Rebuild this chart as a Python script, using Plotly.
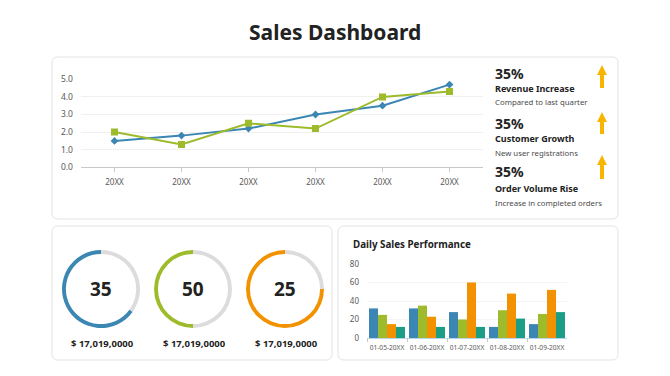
import plotly.graph_objects as go

W, H = 670, 376
FONT = "Noto Sans"

# ---------------- data ----------------
line_categories = ["20XX", "20XX", "20XX", "20XX", "20XX", "20XX"]
line_blue = [1.5, 1.8, 2.2, 3.0, 3.5, 4.7]
line_green = [2.0, 1.3, 2.5, 2.2, 4.0, 4.3]
line_yticks = [0, 1, 2, 3, 4, 5]

kpi_values = ["35%", "35%", "35%"]
kpi_titles = ["Revenue Increase", "Customer Growth", "Order Volume Rise"]
kpi_subtitles = ["Compared to last quarter", "New user registrations", "Increase in completed orders"]

gauge_values = [35, 50, 25]
gauge_amounts = ["$ 17,019,0000", "$ 17,019,0000", "$ 17,019,0000"]

bar_dates = ["01-05-20XX", "01-06-20XX", "01-07-20XX", "01-08-20XX", "01-09-20XX"]
bar_s1 = [32, 32, 28, 12, 15]
bar_s2 = [25, 35, 20, 30, 26]
bar_s3 = [15, 23, 60, 48, 52]
bar_s4 = [12, 12, 12, 21, 28]
bar_yticks = [0, 20, 40, 60, 80]

BLUE = "#3b86b3"
GREEN = "#9dbb2b"
ORANGE = "#f39200"
TEAL = "#1b9e85"
GRAY = "#dcdcdc"
ARROW = "#f7b500"
TXT = "#222222"
AX = "#595959"


def px(x):
    return x / W


def py(y):
    return 1 - y / H


def rrect(x0, y0, x1, y1, r=6):
    X0, X1 = px(x0), px(x1)
    Y0, Y1 = py(y0), py(y1)
    rx, ry = r / W, r / H
    return (f"M {X0+rx},{Y0} L {X1-rx},{Y0} Q {X1},{Y0} {X1},{Y0-ry} "
            f"L {X1},{Y1+ry} Q {X1},{Y1} {X1-rx},{Y1} L {X0+rx},{Y1} "
            f"Q {X0},{Y1} {X0},{Y1+ry} L {X0},{Y0-ry} Q {X0},{Y0} {X0+rx},{Y0} Z")


def arrow(cx, top, bottom, head=10, hw=5, sw=2):
    pts = [(cx, top), (cx + hw, top + head), (cx + sw, top + head), (cx + sw, bottom),
           (cx - sw, bottom), (cx - sw, top + head), (cx - hw, top + head)]
    d = "M " + " L ".join(f"{px(a)},{py(b)}" for a, b in pts) + " Z"
    return d


fig = go.Figure()

# line chart
fig.add_trace(go.Scatter(x=list(range(6)), y=line_blue, mode="lines+markers",
                         line=dict(color=BLUE, width=2),
                         marker=dict(symbol="diamond", size=6, color=BLUE),
                         xaxis="x", yaxis="y", showlegend=False))
fig.add_trace(go.Scatter(x=list(range(6)), y=line_green, mode="lines+markers",
                         line=dict(color=GREEN, width=2),
                         marker=dict(symbol="square", size=7, color=GREEN),
                         xaxis="x", yaxis="y", showlegend=False))

# bar chart
for vals, col in [(bar_s1, BLUE), (bar_s2, GREEN), (bar_s3, ORANGE), (bar_s4, TEAL)]:
    fig.add_trace(go.Bar(x=bar_dates, y=vals, marker=dict(color=col, line=dict(width=0)),
                         xaxis="x2", yaxis="y2", showlegend=False))

# gauges
centers = [101, 193, 285]
R = 39
gauge_colors = [BLUE, GREEN, ORANGE]
for cx, v, col in zip(centers, gauge_values, gauge_colors):
    fig.add_trace(go.Pie(values=[v, 100 - v], marker=dict(colors=[GRAY, col]),
                         hole=0.9, sort=False, direction="clockwise", rotation=0,
                         textinfo="none", hoverinfo="skip", showlegend=False,
                         domain=dict(x=[px(cx - R), px(cx + R)], y=[py(289 + R), py(289 - R)])))

shapes = []
for (x0, y0, x1, y1) in [(52, 57, 618, 219), (52, 226, 332, 360), (338, 226, 618, 360)]:
    shapes.append(dict(type="path", path=rrect(x0, y0, x1, y1), xref="paper", yref="paper",
                       line=dict(color="#e3e3e3", width=1), fillcolor="white", layer="below"))
for top, bottom in [(65, 88), (112, 134), (155, 179)]:
    shapes.append(dict(type="path", path=arrow(602, top, bottom), xref="paper", yref="paper",
                       line=dict(width=0), fillcolor=ARROW))

ann = []
ann.append(dict(text="<b>Sales Dashboard</b>", x=px(335), y=py(32), xref="paper", yref="paper",
                showarrow=False, font=dict(size=21, color=TXT, family=FONT), xanchor="center", yanchor="middle"))
kpi_y = [(73, 88, 102), (123, 138, 153), (172, 188, 203)]
for (a, b, c), v, t, s in zip(kpi_y, kpi_values, kpi_titles, kpi_subtitles):
    ann.append(dict(text=f"<b>{v}</b>", x=px(493), y=py(a), xref="paper", yref="paper", showarrow=False,
                    font=dict(size=14, color=TXT, family=FONT), xanchor="left", yanchor="middle"))
    ann.append(dict(text=f"<b>{t}</b>", x=px(493), y=py(b), xref="paper", yref="paper", showarrow=False,
                    font=dict(size=9, color=TXT, family=FONT), xanchor="left", yanchor="middle"))
    ann.append(dict(text=s, x=px(493), y=py(c), xref="paper", yref="paper", showarrow=False,
                    font=dict(size=7.8, color="#4a4a4a", family=FONT), xanchor="left", yanchor="middle"))
for cx, v, amt in zip(centers, gauge_values, gauge_amounts):
    ann.append(dict(text=f"<b>{v}</b>", x=px(cx), y=py(289), xref="paper", yref="paper", showarrow=False,
                    font=dict(size=19, color=TXT, family=FONT), xanchor="center", yanchor="middle"))
    ann.append(dict(text=f"<b>{amt}</b>", x=px(cx + 1), y=py(343), xref="paper", yref="paper", showarrow=False,
                    font=dict(size=9.5, color=TXT, family=FONT), xanchor="center", yanchor="middle"))
ann.append(dict(text="<b>Daily Sales Performance</b>", x=px(351), y=py(244), xref="paper", yref="paper",
                showarrow=False, font=dict(size=9.8, color=TXT, family=FONT), xanchor="left", yanchor="middle"))

fig.update_layout(
    width=W, height=H, margin=dict(l=0, r=0, t=0, b=0, pad=0, autoexpand=False),
    paper_bgcolor="white", plot_bgcolor="rgba(0,0,0,0)",
    font=dict(family=FONT, color=AX),
    shapes=shapes, annotations=ann,
    barmode="group", bargap=0.1, bargroupgap=0,
    xaxis=dict(domain=[px(81), px(483)], range=[-0.5, 5.5], tickmode="array",
               tickvals=list(range(6)), ticktext=line_categories, showgrid=False,
               showline=True, linecolor="#c8c8c8", linewidth=1, zeroline=False,
               ticks="outside", tickson="boundaries", ticklen=4, tickcolor="#c8c8c8",
               ticklabelstandoff=3,
               tickfont=dict(size=8, color=AX), fixedrange=True, automargin=False),
    yaxis=dict(domain=[py(167.3), py(79.3)], range=[0, 5], tickvals=line_yticks,
               tickformat=".1f", showgrid=True, gridcolor="#f0f0f0", gridwidth=1,
               zeroline=False, showline=False, tickfont=dict(size=8.5, color=AX),
               ticklabelstandoff=7,
               ticks="", fixedrange=True, automargin=False),
    xaxis2=dict(domain=[px(367), px(567)], anchor="y2", showgrid=False, showline=True,
                linecolor="#b8d4e6", linewidth=1, ticks="outside", tickson="boundaries",
                ticklen=3, tickcolor="#c8c8c8", tickfont=dict(size=6.6, color=AX), zeroline=False,
                ticklabelstandoff=3,
                tickangle=0, fixedrange=True, automargin=False),
    yaxis2=dict(domain=[py(338), py(264)], anchor="x2", range=[0, 80], tickvals=bar_yticks,
                showgrid=True, gridcolor="#f4f4f4", zeroline=False, showline=False,
                ticklabelstandoff=7,
                tickfont=dict(size=8, color=AX), fixedrange=True, automargin=False),
)

fig.write_html("out.html", config={"displayModeBar": False},
               post_script="document.body.style.margin='0';document.body.style.padding='0';"
                           "document.body.style.overflow='hidden';")
